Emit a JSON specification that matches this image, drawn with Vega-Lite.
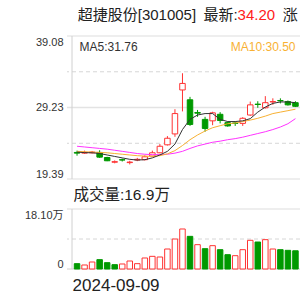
{
  "$schema": "https://vega.github.io/schema/vega-lite/v6.json",
  "width": 233,
  "height": 233,
  "autosize": {"type": "none"},
  "padding": {"left": 67, "top": 36, "right": 0, "bottom": 31},
  "background": "white",
  "config": {"view": {"stroke": null}},
  "data": {"values": [
    {"i": 0, "d": "2024-09-09", "o": 23.05, "h": 23.30, "l": 22.60, "c": 22.95, "v": 1.61, "vd": "down", "ma5": 23.10, "ma10": 23.20, "ma20": 23.90},
    {"i": 1, "d": "2024-09-10", "o": 22.95, "h": 23.30, "l": 22.85, "c": 23.05, "v": 1.21, "vd": "up", "ma5": 23.02, "ma10": 23.15, "ma20": 23.80},
    {"i": 2, "d": "2024-09-11", "o": 23.00, "h": 23.25, "l": 22.90, "c": 23.10, "v": 2.11, "vd": "up", "ma5": 23.00, "ma10": 23.10, "ma20": 23.70},
    {"i": 3, "d": "2024-09-12", "o": 23.05, "h": 23.35, "l": 22.30, "c": 22.40, "v": 2.82, "vd": "down", "ma5": 22.90, "ma10": 23.05, "ma20": 23.60},
    {"i": 4, "d": "2024-09-13", "o": 22.35, "h": 22.45, "l": 21.85, "c": 21.90, "v": 1.91, "vd": "down", "ma5": 22.70, "ma10": 23.00, "ma20": 23.50},
    {"i": 5, "d": "2024-09-18", "o": 21.70, "h": 21.95, "l": 21.55, "c": 21.78, "v": 1.31, "vd": "down", "ma5": 22.50, "ma10": 22.90, "ma20": 23.35},
    {"i": 6, "d": "2024-09-19", "o": 22.05, "h": 22.20, "l": 21.80, "c": 22.00, "v": 1.51, "vd": "up", "ma5": 22.30, "ma10": 22.80, "ma20": 23.20},
    {"i": 7, "d": "2024-09-20", "o": 21.65, "h": 21.90, "l": 21.40, "c": 21.72, "v": 2.41, "vd": "up", "ma5": 22.10, "ma10": 22.70, "ma20": 23.05},
    {"i": 8, "d": "2024-09-23", "o": 22.00, "h": 22.30, "l": 21.85, "c": 22.10, "v": 1.61, "vd": "up", "ma5": 22.00, "ma10": 22.60, "ma20": 22.90},
    {"i": 9, "d": "2024-09-24", "o": 22.05, "h": 22.65, "l": 21.95, "c": 22.45, "v": 3.32, "vd": "up", "ma5": 22.05, "ma10": 22.55, "ma20": 22.80},
    {"i": 10, "d": "2024-09-25", "o": 22.55, "h": 23.30, "l": 22.50, "c": 23.00, "v": 3.82, "vd": "up", "ma5": 22.30, "ma10": 22.50, "ma20": 22.75},
    {"i": 11, "d": "2024-09-26", "o": 23.00, "h": 24.20, "l": 22.95, "c": 23.90, "v": 3.62, "vd": "up", "ma5": 22.70, "ma10": 22.60, "ma20": 22.75},
    {"i": 12, "d": "2024-09-27", "o": 24.10, "h": 25.30, "l": 24.00, "c": 25.00, "v": 6.03, "vd": "up", "ma5": 23.20, "ma10": 22.85, "ma20": 22.80},
    {"i": 13, "d": "2024-09-30", "o": 25.60, "h": 29.00, "l": 25.20, "c": 28.40, "v": 9.05, "vd": "up", "ma5": 24.20, "ma10": 23.30, "ma20": 22.95},
    {"i": 14, "d": "2024-10-08", "o": 31.65, "h": 33.95, "l": 28.70, "c": 32.55, "v": 12.07, "vd": "up", "ma5": 26.20, "ma10": 24.00, "ma20": 23.20},
    {"i": 15, "d": "2024-10-09", "o": 30.30, "h": 30.70, "l": 26.70, "c": 26.90, "v": 9.85, "vd": "down", "ma5": 27.60, "ma10": 24.80, "ma20": 23.60},
    {"i": 16, "d": "2024-10-10", "o": 28.55, "h": 28.90, "l": 27.95, "c": 28.45, "v": 7.34, "vd": "up", "ma5": 28.20, "ma10": 25.45, "ma20": 23.95},
    {"i": 17, "d": "2024-10-11", "o": 27.60, "h": 27.95, "l": 25.90, "c": 26.35, "v": 6.13, "vd": "down", "ma5": 28.40, "ma10": 26.00, "ma20": 24.20},
    {"i": 18, "d": "2024-10-14", "o": 27.40, "h": 28.65, "l": 26.80, "c": 28.50, "v": 7.04, "vd": "up", "ma5": 28.40, "ma10": 26.45, "ma20": 24.45},
    {"i": 19, "d": "2024-10-15", "o": 28.30, "h": 28.60, "l": 27.05, "c": 27.45, "v": 5.83, "vd": "down", "ma5": 27.60, "ma10": 26.73, "ma20": 24.60},
    {"i": 20, "d": "2024-10-16", "o": 27.15, "h": 27.30, "l": 26.60, "c": 26.70, "v": 4.32, "vd": "down", "ma5": 27.30, "ma10": 27.00, "ma20": 24.80},
    {"i": 21, "d": "2024-10-17", "o": 27.10, "h": 27.30, "l": 26.70, "c": 27.05, "v": 4.02, "vd": "up", "ma5": 27.30, "ma10": 27.10, "ma20": 24.95},
    {"i": 22, "d": "2024-10-18", "o": 27.05, "h": 27.90, "l": 26.70, "c": 27.75, "v": 5.83, "vd": "up", "ma5": 27.40, "ma10": 27.30, "ma20": 25.15},
    {"i": 23, "d": "2024-10-21", "o": 28.20, "h": 30.05, "l": 28.10, "c": 29.60, "v": 8.65, "vd": "up", "ma5": 27.70, "ma10": 27.50, "ma20": 25.40},
    {"i": 24, "d": "2024-10-22", "o": 29.70, "h": 30.10, "l": 29.20, "c": 29.65, "v": 8.14, "vd": "down", "ma5": 28.60, "ma10": 27.75, "ma20": 25.65},
    {"i": 25, "d": "2024-10-23", "o": 29.20, "h": 30.80, "l": 29.10, "c": 29.90, "v": 8.85, "vd": "up", "ma5": 29.30, "ma10": 28.05, "ma20": 25.90},
    {"i": 26, "d": "2024-10-24", "o": 30.00, "h": 30.50, "l": 29.60, "c": 30.05, "v": 6.03, "vd": "up", "ma5": 29.80, "ma10": 28.40, "ma20": 26.20},
    {"i": 27, "d": "2024-10-25", "o": 30.20, "h": 30.50, "l": 29.80, "c": 30.15, "v": 5.83, "vd": "down", "ma5": 30.00, "ma10": 28.60, "ma20": 26.55},
    {"i": 28, "d": "2024-10-28", "o": 30.05, "h": 30.20, "l": 29.50, "c": 29.60, "v": 5.63, "vd": "down", "ma5": 30.00, "ma10": 28.80, "ma20": 27.00},
    {"i": 29, "d": "2024-10-29", "o": 29.90, "h": 30.10, "l": 29.30, "c": 29.40, "v": 5.50, "vd": "down", "ma5": 29.90, "ma10": 29.00, "ma20": 27.70}
  ]},
  "layer": [
    {
      "layer": [
        {
          "data": {"values": [{"g": 39.08}]},
          "mark": {"type": "rule", "color": "#dddddd", "strokeWidth": 1},
          "encoding": {"y": {"datum": 39.08, "type": "quantitative",
            "axis": {"orient": "left", "values": [39.08], "format": ".2f", "labelBaseline": "top", "domain": false, "ticks": false, "grid": false, "labelFontSize": 11, "labelFont": "Liberation Sans", "labelColor": "#333", "labelPadding": 4, "title": null, "labelOverlap": false}}}
        },
        {
          "data": {"values": [{"g": 29.23}]},
          "mark": {"type": "rule", "color": "#e3e3e3", "strokeWidth": 1.5},
          "encoding": {"y": {"datum": 29.23, "type": "quantitative",
            "axis": {"orient": "left", "values": [29.23], "format": ".2f", "labelBaseline": "middle", "domain": false, "ticks": false, "grid": false, "labelFontSize": 11, "labelFont": "Liberation Sans", "labelColor": "#333", "labelPadding": 4, "title": null, "labelOverlap": false}}}
        },
        {
          "data": {"values": [{"g": 19.39}]},
          "mark": {"type": "rule", "color": "#dddddd", "strokeWidth": 1},
          "encoding": {"y": {"datum": 19.39, "type": "quantitative",
            "axis": {"orient": "left", "values": [19.39], "format": ".2f", "labelBaseline": "bottom", "domain": false, "ticks": false, "grid": false, "labelFontSize": 11, "labelFont": "Liberation Sans", "labelColor": "#333", "labelPadding": 4, "title": null, "labelOverlap": false}}}
        },
        {
          "data": {"values": [{"g": 34.155}]},
          "mark": {"type": "rule", "color": "#d6d6d6", "strokeWidth": 1, "strokeDash": [4, 3]},
          "encoding": {"y": {"datum": 34.155, "type": "quantitative", "axis": null}}
        },
        {
          "data": {"values": [{"g": 24.31}]},
          "mark": {"type": "rule", "color": "#d6d6d6", "strokeWidth": 1, "strokeDash": [4, 3]},
          "encoding": {"y": {"datum": 24.31, "type": "quantitative", "axis": null}}
        },
        {
          "data": {"values": [{"g": "frame"}]},
          "mark": {"type": "rule", "color": "#d0d0d0", "strokeWidth": 1},
          "encoding": {"x": {"datum": -0.67, "type": "quantitative"}, "y": {"datum": 19.39, "type": "quantitative", "axis": null}, "y2": {"datum": 39.08}}
        },
        {
          "mark": {"type": "rule", "strokeWidth": 1},
          "encoding": {
            "x": {"field": "i", "type": "quantitative", "scale": {"domain": [-0.67, 28.94], "nice": false, "zero": false},
              "axis": {"values": [-0.66], "labelExpr": "'2024-09-09'", "labelAlign": "left", "domain": false, "ticks": false, "grid": false, "labelFontSize": 17, "labelFont": "Liberation Sans", "labelColor": "#222", "labelPadding": 8, "title": null, "labelOverlap": false}},
            "y": {"field": "l", "type": "quantitative", "scale": {"domain": [7.0, 39.08], "nice": false, "zero": false}, "axis": null},
            "y2": {"field": "h"},
            "color": {"condition": {"test": "datum.c >= datum.o", "value": "#ff3333"}, "value": "#009900"}
          }
        },
        {
          "mark": {"type": "bar", "width": 5.5, "strokeWidth": 1},
          "encoding": {
            "x": {"field": "i", "type": "quantitative"},
            "y": {"field": "o", "type": "quantitative", "axis": null},
            "y2": {"field": "c"},
            "fill": {"condition": {"test": "datum.c >= datum.o", "value": "#ffffff"}, "value": "#009900"},
            "stroke": {"condition": {"test": "datum.c >= datum.o", "value": "#ff3333"}, "value": "#009900"}
          }
        },
        {
          "mark": {"type": "line", "strokeWidth": 1, "color": "#ff33ff"},
          "encoding": {"x": {"field": "i", "type": "quantitative"}, "y": {"field": "ma20", "type": "quantitative", "axis": null}}
        },
        {
          "mark": {"type": "line", "strokeWidth": 1, "color": "#f8b133"},
          "encoding": {"x": {"field": "i", "type": "quantitative"}, "y": {"field": "ma10", "type": "quantitative", "axis": null}}
        },
        {
          "mark": {"type": "line", "strokeWidth": 1, "color": "#333333"},
          "encoding": {"x": {"field": "i", "type": "quantitative"}, "y": {"field": "ma5", "type": "quantitative", "axis": null}}
        },
        {
          "data": {"values": [{"t": "MA5:31.76"}]},
          "mark": {"type": "text", "align": "left", "baseline": "middle", "fontSize": 12, "font": "Liberation Sans", "color": "#333"},
          "encoding": {"x": {"datum": 0.34, "type": "quantitative"}, "y": {"datum": 37.57, "type": "quantitative", "axis": null}, "text": {"field": "t"}}
        },
        {
          "data": {"values": [{"t": "MA10:30.50"}]},
          "mark": {"type": "text", "align": "left", "baseline": "middle", "fontSize": 12, "font": "Liberation Sans", "color": "#f8b133"},
          "encoding": {"x": {"datum": 20.42, "type": "quantitative"}, "y": {"datum": 37.57, "type": "quantitative", "axis": null}, "text": {"field": "t"}}
        },
        {
          "data": {"values": [{"t": "超捷股份[301005]\u2002最新:"}]},
          "mark": {"type": "text", "align": "left", "baseline": "middle", "fontSize": 15, "font": "Liberation Sans, Noto Sans CJK SC", "color": "#222"},
          "encoding": {"x": {"datum": 0.09, "type": "quantitative"}, "y": {"datum": 41.97, "type": "quantitative", "axis": null}, "text": {"field": "t"}}
        },
        {
          "data": {"values": [{"t": "34.20"}]},
          "mark": {"type": "text", "align": "left", "baseline": "middle", "fontSize": 15, "font": "Liberation Sans", "color": "#ff2020"},
          "encoding": {"x": {"datum": 21.31, "type": "quantitative"}, "y": {"datum": 41.97, "type": "quantitative", "axis": null}, "text": {"field": "t"}}
        },
        {
          "data": {"values": [{"t": "涨"}]},
          "mark": {"type": "text", "align": "left", "baseline": "middle", "fontSize": 15, "font": "Noto Sans CJK SC", "color": "#222"},
          "encoding": {"x": {"datum": 27.3, "type": "quantitative"}, "y": {"datum": 41.97, "type": "quantitative", "axis": null}, "text": {"field": "t"}}
        },
        {
          "data": {"values": [{"t": "成交量:16.9万"}]},
          "mark": {"type": "text", "align": "left", "baseline": "middle", "fontSize": 15.5, "font": "Liberation Sans, Noto Sans CJK SC", "color": "#222"},
          "encoding": {"x": {"datum": -0.48, "type": "quantitative"}, "y": {"datum": 17.19, "type": "quantitative", "axis": null}, "text": {"field": "t"}}
        }
      ],
      "resolve": {"axis": {"y": "independent"}}
    },
    {
      "layer": [
        {
          "data": {"values": [{"g": 18.1}]},
          "mark": {"type": "rule", "color": "#dddddd", "strokeWidth": 1},
          "encoding": {"y": {"datum": 18.1, "type": "quantitative",
            "axis": {"orient": "left", "values": [18.1], "labelExpr": "format(datum.value, '.2f') + '万'", "labelBaseline": "top", "domain": false, "ticks": false, "grid": false, "labelFontSize": 11, "labelFont": "Liberation Sans, Noto Sans CJK SC", "labelColor": "#333", "labelPadding": 4, "title": null, "labelOverlap": false}}}
        },
        {
          "data": {"values": [{"g": 0}]},
          "mark": {"type": "rule", "color": "#d0d0d0", "strokeWidth": 1},
          "encoding": {"y": {"datum": 0, "type": "quantitative",
            "axis": {"orient": "left", "values": [0], "labelBaseline": "bottom", "domain": false, "ticks": false, "grid": false, "labelFontSize": 11, "labelFont": "Liberation Sans", "labelColor": "#333", "labelPadding": 4, "title": null, "labelOverlap": false}}}
        },
        {
          "data": {"values": [{"g": 9.05}]},
          "mark": {"type": "rule", "color": "#d6d6d6", "strokeWidth": 1, "strokeDash": [4, 3]},
          "encoding": {"y": {"datum": 9.05, "type": "quantitative", "axis": null}}
        },
        {
          "data": {"values": [{"g": "frame"}]},
          "mark": {"type": "rule", "color": "#d0d0d0", "strokeWidth": 1},
          "encoding": {"x": {"datum": -0.67, "type": "quantitative"}, "y": {"datum": 0, "type": "quantitative", "axis": null}, "y2": {"datum": 18.1}}
        },
        {
          "mark": {"type": "bar", "width": 5.5, "strokeWidth": 1},
          "encoding": {
            "x": {"field": "i", "type": "quantitative"},
            "y": {"field": "v", "type": "quantitative", "scale": {"domain": [0, 70.29], "nice": false, "zero": false}, "axis": null},
            "fill": {"condition": {"test": "datum.vd == 'up'", "value": "#ffffff"}, "value": "#009900"},
            "stroke": {"condition": {"test": "datum.vd == 'up'", "value": "#ff3333"}, "value": "#009900"}
          }
        }
      ],
      "resolve": {"axis": {"y": "independent"}}
    }
  ],
  "resolve": {"scale": {"y": "independent"}}
}
